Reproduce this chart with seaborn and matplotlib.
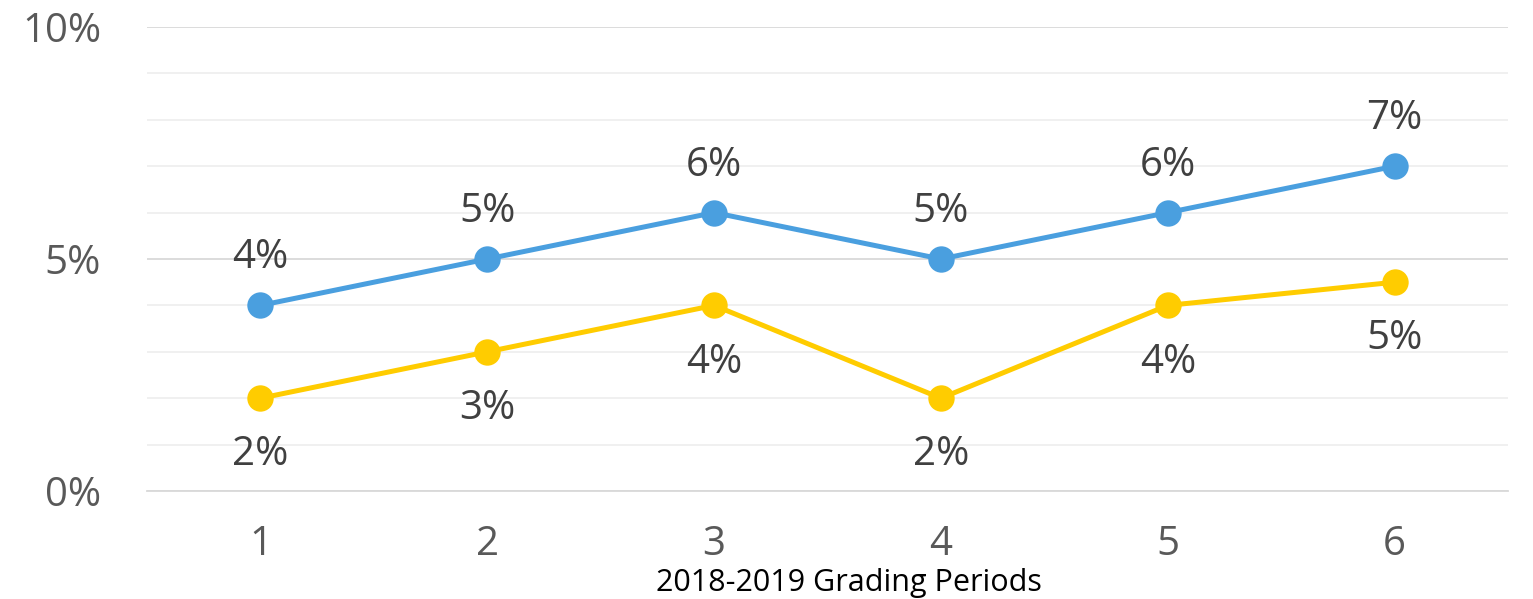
import math
import pandas as pd
import seaborn as sns
import matplotlib.pyplot as plt
from matplotlib.ticker import FixedLocator, FuncFormatter

periods = [1, 2, 3, 4, 5, 6]
series_a = [4, 5, 6, 5, 6, 7]
series_b = [2, 3, 4, 2, 4, 4.5]
y_ticks = [0, 5, 10]

df = pd.DataFrame({
    'period': periods * 2,
    'value': series_a + series_b,
    'series': ['A'] * len(periods) + ['B'] * len(periods),
})

sns.set_style('white')
plt.rcParams['font.family'] = ['Open Sans', 'DejaVu Sans']

fig = plt.figure(figsize=(15.33, 5.99), dpi=100)
ax = fig.add_axes([0.0959, 0.1803, 0.8878, 0.7746])

# minor grid every 1%, major every 5%
for v in range(0, 11):
    ax.axhline(v, color='#d9d9d9' if v % 5 == 0 else '#efefef', lw=1.3, zorder=0)

sns.lineplot(data=df, x='period', y='value', hue='series',
             palette={'A': '#4a9fdf', 'B': '#ffcc00'}, marker='o',
             markersize=19, markeredgewidth=0, linewidth=3.6, legend=False, ax=ax)

# data labels: blue above, yellow below
for x, v in zip(periods, series_a):
    ax.annotate(f'{math.floor(v + 0.5)}%', (x, v), xytext=(0, 34), textcoords='offset points',
                ha='center', va='center', fontsize=29, color='#404040')
for x, v in zip(periods, series_b):
    ax.annotate(f'{math.floor(v + 0.5)}%', (x, v), xytext=(0, -41), textcoords='offset points',
                ha='center', va='center', fontsize=29, color='#404040')

ax.set_xlim(0.5, 6.5)
ax.set_ylim(0, 10)
ax.set_yticks(y_ticks)
ax.yaxis.set_major_formatter(FuncFormatter(lambda v, p: f'{v:.0f}%'))
ax.set_xticks(periods)
ax.xaxis.set_minor_locator(FixedLocator([0.5, 6.5]))
ax.tick_params(axis='y', length=0, pad=33, labelsize=29, labelcolor='#595959')
ax.tick_params(axis='x', which='both', direction='in', length=8, width=1.3, color='#d9d9d9',
               pad=24, labelsize=29, labelcolor='#595959')

for s in ['left', 'right', 'top']:
    ax.spines[s].set_visible(False)
ax.spines['bottom'].set_color('#d9d9d9')
ax.spines['bottom'].set_linewidth(1.3)

ax.set_ylabel('')
ax.set_xlabel('2018-2019 Grading Periods', fontsize=22, color='black')
ax.xaxis.set_label_coords(0.516, -0.165)

fig.savefig('out.png', dpi=100)
